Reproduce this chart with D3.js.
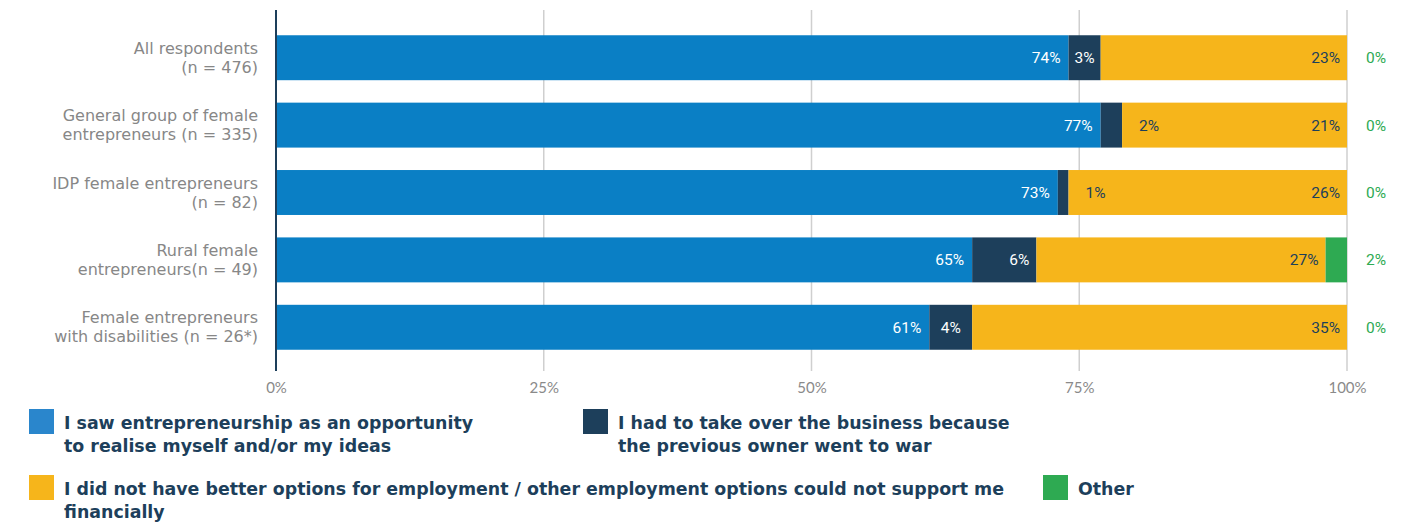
<!DOCTYPE html>
<html>
<head>
<meta charset="utf-8">
<script src="https://cdn.jsdelivr.net/npm/d3@7"></script>
<style>
  html, body { margin: 0; padding: 0; background: #fff; }
  svg { display: block; }
</style>
</head>
<body>
<svg id="chart" width="1414" height="525"></svg>
<script>
// Respondent groups (two-line labels)
const categories = [
  ["All respondents", "(n = 476)"],
  ["General group of female", "entrepreneurs (n = 335)"],
  ["IDP female entrepreneurs", "(n = 82)"],
  ["Rural female", "entrepreneurs(n = 49)"],
  ["Female entrepreneurs", "with disabilities (n = 26*)"]
];

// Share of answers per group, in percent
const opportunity = [74, 77, 73, 65, 61];
const takeover    = [3, 2, 1, 6, 4];
const noOptions   = [23, 21, 26, 27, 35];
const other       = [0, 0, 0, 2, 0];

const tickValues = [0, 25, 50, 75, 100];
const tickLabels = ["0%", "25%", "50%", "75%", "100%"];

const seriesNames = [
  ["I saw entrepreneurship as an opportunity", "to realise myself and/or my ideas"],
  ["I had to take over the business because", "the previous owner went to war"],
  ["I did not have better options for employment / other employment options could not support me", "financially"],
  ["Other"]
];
const seriesColors = ["#0a7fc5", "#1d3f5b", "#f6b51b", "#2eaa52"];
const legendColors = ["#2a86cc", "#1d3f5b", "#f6b51b", "#2eaa52"];

const svg = d3.select("#chart");
const x = d3.scaleLinear().domain([0, 100]).range([276, 1347]);
const y = d3.scaleBand().domain(d3.range(categories.length)).range([24, 361]).paddingInner(0.333).paddingOuter(0.167);

// Grid lines and axis
const axis = d3.axisBottom(x).tickValues(tickValues).tickFormat((d, i) => tickLabels[i]).tickSize(0);
svg.append("g")
  .selectAll("line").data(tickValues.slice(1)).join("line")
  .attr("x1", d => x(d)).attr("x2", d => x(d))
  .attr("y1", 10).attr("y2", 371)
  .attr("stroke", "#cfcfcf").attr("stroke-width", 1.5);

const gAxis = svg.append("g").attr("transform", "translate(0,376)").call(axis);
gAxis.select(".domain").remove();
gAxis.selectAll("text")
  .attr("font-family", "Lato, sans-serif").attr("font-size", 15)
  .attr("fill", "#8a8a8a").attr("dy", "0.9em");

// Stacked bars
const stackData = categories.map((c, i) => ({
  i, s0: opportunity[i], s1: takeover[i], s2: noOptions[i], s3: other[i]
}));
const stack = d3.stack().keys(["s0", "s1", "s2", "s3"]);
const layers = stack(stackData);

svg.append("g").selectAll("g").data(layers).join("g")
  .attr("fill", (d, k) => seriesColors[k])
  .selectAll("rect").data(d => d).join("rect")
  .attr("x", d => x(d[0]))
  .attr("width", d => Math.max(0, x(d[1]) - x(d[0])))
  .attr("y", d => y(d.data.i))
  .attr("height", y.bandwidth());

// Zero axis line
svg.append("line")
  .attr("x1", x(0)).attr("x2", x(0))
  .attr("y1", 10).attr("y2", 371)
  .attr("stroke", "#1d3f5b").attr("stroke-width", 2);

// Value labels
const labelFont = "Roboto, sans-serif";
const gLabels = svg.append("g").attr("font-family", labelFont).attr("font-size", 15.5);
layers.forEach((layer, k) => {
  layer.forEach(d => {
    const i = d.data.i;
    const v = d[1] - d[0];
    const cy = y(i) + y.bandwidth() / 2;
    const t = gLabels.append("text").attr("y", cy).attr("dy", "0.35em").text(v + "%");
    const segW = x(d[1]) - x(d[0]);
    if (k === 0) {
      t.attr("x", x(d[1]) - 8).attr("text-anchor", "end").attr("fill", "#fff");
    } else if (k === 1) {
      if (segW >= 50) {
        t.attr("x", x(d[1]) - 7).attr("text-anchor", "end").attr("fill", "#fff");
      } else if (segW >= 26) {
        t.attr("x", (x(d[0]) + x(d[1])) / 2).attr("text-anchor", "middle").attr("fill", "#fff");
      } else {
        t.attr("x", x(d[1]) + 17).attr("text-anchor", "start").attr("fill", "#1d3f5b");
      }
    } else if (k === 2) {
      t.attr("x", x(d[1]) - 7).attr("text-anchor", "end").attr("fill", "#1d3f5b");
    } else {
      t.attr("x", x(100) + 19).attr("text-anchor", "start").attr("fill", "#2eaa52");
    }
  });
});

// Category labels
const gCats = svg.append("g").attr("font-family", "'DejaVu Sans', sans-serif").attr("font-size", 16)
  .attr("fill", "#878787").attr("text-anchor", "end");
categories.forEach((lines, i) => {
  const cy = y(i) + y.bandwidth() / 2;
  const t = gCats.append("text").attr("x", 258).attr("y", cy - 9.5);
  lines.forEach((ln, j) => {
    t.append("tspan").attr("x", 258).attr("dy", j === 0 ? "0.35em" : 19).text(ln);
  });
});

// Legend
const legendPos = [
  { x: 29, y: 409 },
  { x: 583, y: 409 },
  { x: 29, y: 475 },
  { x: 1043, y: 475 }
];
const gLeg = svg.append("g").attr("font-family", "'DejaVu Sans', sans-serif").attr("font-weight", 700)
  .attr("font-size", 17.4).attr("fill", "#1d3f5b");
seriesNames.forEach((lines, k) => {
  const p = legendPos[k];
  gLeg.append("rect").attr("x", p.x).attr("y", p.y).attr("width", 25).attr("height", 25)
    .attr("fill", legendColors[k]);
  const t = gLeg.append("text").attr("x", p.x + 35).attr("y", p.y + 20);
  lines.forEach((ln, j) => {
    t.append("tspan").attr("x", p.x + 35).attr("dy", j === 0 ? 0 : 23).text(ln);
  });
});
</script>
</body>
</html>
